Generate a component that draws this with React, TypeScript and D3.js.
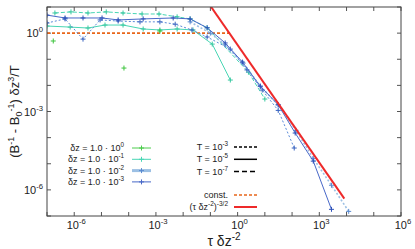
import React from 'react';
import * as d3 from 'd3';

const W = 415;
const H = 249;
const PL = 47, PR = 401, PT = 7, PB = 216;

const xDomain = [1e-7, 1e6];
const yDomain = [1e-7, 1e1];
const xTickExps = [-7, -6, -5, -4, -3, -2, -1, 0, 1, 2, 3, 4, 5, 6];
const xLabelExps = ['-6', '-3', '0', '3', '6'];
const yTickExps = [-7, -6, -5, -4, -3, -2, -1, 0, 1];
const yLabelExps = ['-6', '-3', '0'];

// δz = 1.0 · 10^-1, T = 10^-7 (dashed)
const tauA = [1.95e-7, 7.6e-7, 3.2e-6, 1.5e-5, 6.2e-5, 3.1e-4, 1.3e-3, 6.0e-3, 1.8e-2, 7.6e-2, 2.5, 10];
const valA = [5.9, 6.5, 5.9, 6.5, 5.9, 5.4, 5.4, 4.2, 3.5, 1.6, 3.2e-2, 3.0e-3];

// δz = 1.0 · 10^-3, T = 10^-5 (solid)
const tauB = [1e-7, 4.6e-7, 2.1e-6, 1.05e-5, 4.1e-5, 3.4e-4, 4.3e-3, 1.8e-2, 7.6e-2, 0.35, 1.5, 6.8, 31, 130, 600, 2800];
const valB = [4.9, 3.8, 3.8, 3.8, 3.2, 3.5, 3.8, 3.5, 1.6, 0.42, 7.8e-2, 9.3e-3, 1.8e-3, 1.5e-4, 1.26e-5, 1.8e-7];

// δz = 1.0 · 10^-3, T = 10^-3 (short dash)
const tauC = [1e-7, 4.6e-7, 2.1e-6, 8.9e-6, 4.1e-5, 2.6e-4, 1.4e-3, 5.1e-3, 2.1e-2, 7.6e-2, 0.54, 2.2, 8.0, 31, 120];
const valC = [2.44, 3.5, 0.59, 3.2, 2.9, 2.7, 2.7, 2.2, 1.32, 0.71, 0.245, 3.9e-2, 6.6e-3, 1.1e-3, 4.0e-5];

// δz = 1.0 · 10^-2, T = 10^-7 (dashed)
const tauD = [1.8e-2, 0.1, 0.35, 1.6, 6.8, 31, 140, 600, 2800, 12000];
const valD = [2.7, 1.0, 0.35, 7.1e-2, 9.3e-3, 1.8e-3, 1.9e-4, 1.6e-5, 1.5e-6, 1.5e-7];

// δz = 1.0 · 10^-1, T = 10^-5 (solid)
const tauE = [1e-7, 7.1e-7, 3.2e-6, 1.35e-5, 6.2e-5, 3.4e-4, 1.4e-3, 6.0e-3, 2.3e-2, 0.117, 0.54];
const valE = [1.87, 1.7, 1.57, 2.04, 2.04, 1.44, 1.32, 1.44, 1.32, 0.38, 1.6e-2];

// δz = 1.0 · 10^0, T = 10^-3 (isolated points)
const tauG = [1.7e-7, 6.7e-5, 1.4e-3];
const valG = [0.5, 4.6e-2, 1.2];

// const. and (τ δz^-2)^-3/2
const constTau = [1e-7, 0.54];
const constVal = [1, 1];
const powTau = [0.08, 8300];
const powCoef = 0.35;

const dzLabels = ['0', '-1', '-2', '-3'];
const dzColors = ['#4ccc4c', '#48d6b4', '#9cc0e4', '#4868c8'];
const dzWidths = [1, 1, 3, 1];
const tLabels = ['-3', '-5', '-7'];
const tDash = ['3,2', '', '5,3'];

const FONT = 'Liberation Sans, Arial, Helvetica, sans-serif';

export default function App() {
  const x = d3.scaleLog().domain(xDomain).range([PL, PR]);
  const y = d3.scaleLog().domain(yDomain).range([PB, PT]);
  const line = d3.line<[number, number]>().x(d => x(d[0])).y(d => y(d[1]));

  const series = [
    { t: tauE, v: valE, color: dzColors[1], mk: '#38c8a0', w: 1, dash: '' },
    { t: tauA, v: valA, color: dzColors[1], mk: '#38c8a0', w: 1, dash: '4,2' },
    { t: tauD, v: valD, color: dzColors[2], mk: '#5a8ad0', w: 1.6, dash: '2,2' },
    { t: tauC, v: valC, color: '#5a8ad8', mk: '#3a64c0', w: 1, dash: '2,2' },
    { t: tauB, v: valB, color: dzColors[3], mk: '#2c50b8', w: 1, dash: '' },
  ];

  const plus = (cx: number, cy: number, color: string, key: string) => (
    <path key={key} d={`M${cx - 2.5},${cy}H${cx + 2.5}M${cx},${cy - 2.5}V${cy + 2.5}`} stroke={color} strokeWidth={1} fill="none" />
  );

  const powData: [number, number][] = powTau.map(t => [t, powCoef * Math.pow(t, -1.5)]);

  const sup = (base: string, exp: string, size: number) => (
    <>
      <tspan>{base}</tspan>
      <tspan dy={-size * 0.45} fontSize={size * 0.7}>{exp}</tspan>
    </>
  );

  return (
    <svg width={W} height={H} style={{ position: 'absolute', left: 0, top: 0, background: '#fff' }} fontFamily={FONT}>
      <defs>
        <clipPath id="plot">
          <rect x={PL} y={PT} width={PR - PL} height={PB - PT} />
        </clipPath>
      </defs>
      <rect x={0} y={0} width={W} height={H} fill="#fff" />

      {/* ticks */}
      {xTickExps.map(e => (
        <g key={'xt' + e} stroke="#555" strokeWidth={1}>
          <line x1={x(Math.pow(10, e))} x2={x(Math.pow(10, e))} y1={PB} y2={PB - 4} />
          <line x1={x(Math.pow(10, e))} x2={x(Math.pow(10, e))} y1={PT} y2={PT + 4} />
        </g>
      ))}
      {yTickExps.map(e => (
        <g key={'yt' + e} stroke="#555" strokeWidth={1}>
          <line x1={PL} x2={PL + 4} y1={y(Math.pow(10, e))} y2={y(Math.pow(10, e))} />
          <line x1={PR} x2={PR - 4} y1={y(Math.pow(10, e))} y2={y(Math.pow(10, e))} />
        </g>
      ))}
      {xLabelExps.map(e => (
        <text key={'xl' + e} x={x(Math.pow(10, +e)) + 2} y={229} textAnchor="middle" fontSize={11} fill="#222">
          {sup('10', e, 11)}
        </text>
      ))}
      {yLabelExps.map(e => (
        <text key={'yl' + e} x={43} y={y(Math.pow(10, +e)) + 4} textAnchor="end" fontSize={11} fill="#222">
          {sup('10', e, 11)}
        </text>
      ))}

      {/* data */}
      <g clipPath="url(#plot)">
        <path d={line(constTau.map((t, i) => [t, constVal[i]] as [number, number])) || ''} stroke="#e8661a" strokeWidth={1.6} strokeDasharray="3,2" fill="none" />
        {series.map((s, i) => (
          <g key={'s' + i}>
            <path d={line(s.t.map((t, j) => [t, s.v[j]] as [number, number])) || ''} stroke={s.color} strokeWidth={s.w} strokeDasharray={s.dash} fill="none" />
            {s.t.map((t, j) => plus(x(t), y(s.v[j]), s.mk, 'm' + i + '-' + j))}
          </g>
        ))}
        {tauG.map((t, j) => plus(x(t), y(valG[j]), '#3cc43c', 'g' + j))}
        <path d={line(powData) || ''} stroke="#ee2a2a" strokeWidth={2} fill="none" />
      </g>

      {/* frame */}
      <rect x={PL} y={PT} width={PR - PL} height={PB - PT} fill="none" stroke="#444" strokeWidth={1} />

      {/* legend δz */}
      {dzLabels.map((e, i) => {
        const ly = 148 + i * 11.3;
        return (
          <g key={'ld' + i}>
            <text x={124} y={ly + 3} textAnchor="end" fontSize={9} fill="#222">
              {sup('δz = 1.0 · 10', e, 9)}
            </text>
            <line x1={132} x2={151} y1={ly} y2={ly} stroke={dzColors[i]} strokeWidth={dzWidths[i]} />
            {plus(141.5, ly, i === 2 ? '#5a8ad0' : dzColors[i], 'lp' + i)}
          </g>
        );
      })}
      {/* legend T */}
      {tLabels.map((e, i) => {
        const ly = 147 + i * 12.3;
        return (
          <g key={'lt' + i}>
            <text x={228} y={ly + 3} textAnchor="end" fontSize={9} fill="#222">
              {sup('T = 10', e, 9)}
            </text>
            <line x1={234} x2={257} y1={ly} y2={ly} stroke="#000" strokeWidth={1.5} strokeDasharray={tDash[i]} />
          </g>
        );
      })}
      <text x={228} y={198} textAnchor="end" fontSize={9} fill="#222">const.</text>
      <line x1={234} x2={257} y1={195} y2={195} stroke="#e8661a" strokeWidth={1.5} strokeDasharray="3,2" />
      <text x={228} y={210} textAnchor="end" fontSize={9} fill="#222">
        <tspan>(τ δz</tspan>
        <tspan dy={-4} fontSize={6.5}>-2</tspan>
        <tspan dy={4}>)</tspan>
        <tspan dy={-4} fontSize={6.5}>-3/2</tspan>
      </text>
      <line x1={234} x2={257} y1={207} y2={207} stroke="#ee2a2a" strokeWidth={2} />

      {/* axis titles */}
      <text x={224} y={246} textAnchor="middle" fontSize={14} fill="#222">
        <tspan>τ δz</tspan>
        <tspan dy={-6} fontSize={10}>-2</tspan>
      </text>
      <text transform={`translate(19,${(PT + PB) / 2}) rotate(-90)`} textAnchor="middle" fontSize={13} fill="#222">
        <tspan>(B</tspan>
        <tspan dy={-5} fontSize={9}>-1</tspan>
        <tspan dy={5}> - B</tspan>
        <tspan dy={3} fontSize={9}>0</tspan>
        <tspan dy={-8} fontSize={9}>-1</tspan>
        <tspan dy={5}>) δz</tspan>
        <tspan dy={-5} fontSize={9}>3</tspan>
        <tspan dy={5}>/T</tspan>
      </text>
    </svg>
  );
}
